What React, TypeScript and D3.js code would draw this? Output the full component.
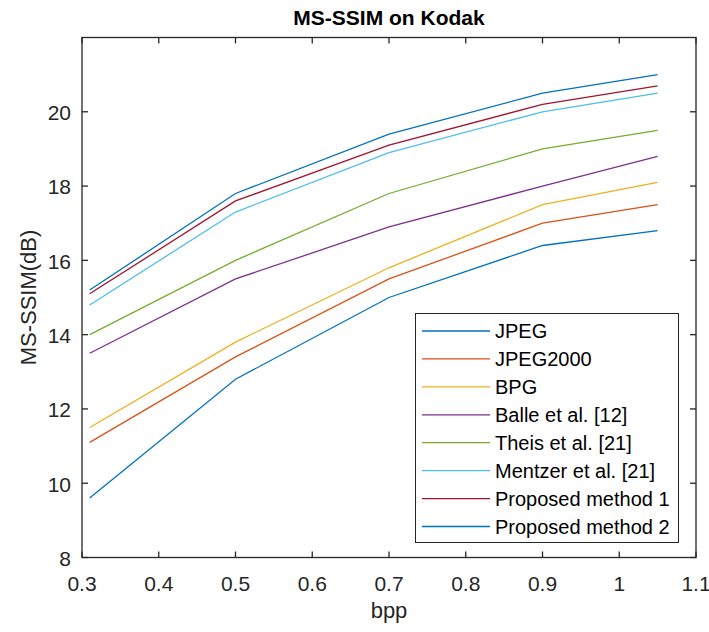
import React, { useEffect, useRef } from 'react';
import * as d3 from 'd3';

const bpp = [0.31, 0.5, 0.7, 0.9, 1.05];

const jpeg = [9.6, 12.8, 15.0, 16.4, 16.8];
const jpeg2000 = [11.1, 13.4, 15.5, 17.0, 17.5];
const bpg = [11.5, 13.8, 15.8, 17.5, 18.1];
const balle = [13.5, 15.5, 16.9, 18.0, 18.8];
const theis = [14.0, 16.0, 17.8, 19.0, 19.5];
const mentzer = [14.8, 17.3, 18.9, 20.0, 20.5];
const proposed1 = [15.1, 17.6, 19.1, 20.2, 20.7];
const proposed2 = [15.2, 17.8, 19.4, 20.5, 21.0];

const seriesNames = [
  'JPEG',
  'JPEG2000',
  'BPG',
  'Balle et al. [12]',
  'Theis et al. [21]',
  'Mentzer et al. [21]',
  'Proposed method 1',
  'Proposed method 2',
];
const seriesValues = [jpeg, jpeg2000, bpg, balle, theis, mentzer, proposed1, proposed2];
const seriesColors = ['#0072BD', '#D95319', '#EDB120', '#7E2F8E', '#77AC30', '#4DBEEE', '#A2142F', '#0072BD'];

const xTicks = [0.3, 0.4, 0.5, 0.6, 0.7, 0.8, 0.9, 1, 1.1];
const yTicks = [8, 10, 12, 14, 16, 18, 20];

const App = () => {
  const ref = useRef<SVGSVGElement>(null);

  useEffect(() => {
    const width = 709;
    const height = 632;
    const left = 82;
    const right = 696;
    const top = 37.5;
    const bottom = 557.5;
    const font = '"Liberation Sans", Arial, Helvetica, sans-serif';
    const axisColor = '#262626';

    const svg = d3.select(ref.current);
    svg.selectAll('*').remove();
    svg.attr('width', width).attr('height', height);

    svg.append('rect').attr('width', width).attr('height', height).attr('fill', 'white');

    const x = d3.scaleLinear().domain([0.3, 1.1]).range([left, right]);
    const y = d3.scaleLinear().domain([8, 22]).range([bottom, top]);

    // data lines
    const line = d3
      .line<number>()
      .x((d, i) => x(bpp[i]))
      .y((d) => y(d));

    seriesValues.forEach((vals, i) => {
      svg
        .append('path')
        .attr('d', line(vals))
        .attr('fill', 'none')
        .attr('stroke', seriesColors[i])
        .attr('stroke-width', 1.3);
    });

    // box + ticks
    const tickLen = 6;
    const ax = svg.append('g').attr('stroke', axisColor).attr('stroke-width', 1.3);
    ax.append('rect')
      .attr('x', left)
      .attr('y', top)
      .attr('width', right - left)
      .attr('height', bottom - top)
      .attr('fill', 'none');

    xTicks.forEach((t) => {
      ax.append('line').attr('x1', x(t)).attr('x2', x(t)).attr('y1', bottom).attr('y2', bottom - tickLen);
      ax.append('line').attr('x1', x(t)).attr('x2', x(t)).attr('y1', top).attr('y2', top + tickLen);
    });
    yTicks.forEach((t) => {
      ax.append('line').attr('x1', left).attr('x2', left + tickLen).attr('y1', y(t)).attr('y2', y(t));
      ax.append('line').attr('x1', right).attr('x2', right - tickLen).attr('y1', y(t)).attr('y2', y(t));
    });

    // tick labels
    svg.append('g')
      .selectAll('text')
      .data(xTicks)
      .enter()
      .append('text')
      .attr('x', (d) => x(d))
      .attr('y', bottom + 33)
      .attr('text-anchor', 'middle')
      .style('font-family', font)
      .style('font-size', '21px')
      .attr('fill', axisColor)
      .text((d) => String(d));

    svg.append('g')
      .selectAll('text')
      .data(yTicks)
      .enter()
      .append('text')
      .attr('x', left - 11)
      .attr('y', (d) => y(d) + 1)
      .attr('dy', '0.35em')
      .attr('text-anchor', 'end')
      .style('font-family', font)
      .style('font-size', '21px')
      .attr('fill', axisColor)
      .text((d) => String(d));

    // title and axis labels
    svg.append('text')
      .attr('x', (left + right) / 2)
      .attr('y', 25)
      .attr('text-anchor', 'middle')
      .style('font-family', font)
      .style('font-size', '21px')
      .style('font-weight', 'bold')
      .attr('fill', 'black')
      .text('MS-SSIM on Kodak');

    svg.append('text')
      .attr('x', (left + right) / 2)
      .attr('y', 618)
      .attr('text-anchor', 'middle')
      .style('font-family', font)
      .style('font-size', '22px')
      .attr('fill', axisColor)
      .text('bpp');

    svg.append('text')
      .attr('transform', `translate(36,${(top + bottom) / 2}) rotate(-90)`)
      .attr('text-anchor', 'middle')
      .style('font-family', font)
      .style('font-size', '22px')
      .attr('fill', axisColor)
      .text('MS-SSIM(dB)');

    // legend
    const lg = svg.append('g');
    lg.append('rect')
      .attr('x', 415.5)
      .attr('y', 313.5)
      .attr('width', 263)
      .attr('height', 229)
      .attr('fill', 'white')
      .attr('stroke', axisColor)
      .attr('stroke-width', 1);

    const rowY = d3.scaleLinear().domain([0, 7]).range([331, 526.5]);
    seriesNames.forEach((name, i) => {
      lg.append('line')
        .attr('x1', 422)
        .attr('x2', 490)
        .attr('y1', rowY(i))
        .attr('y2', rowY(i))
        .attr('stroke', seriesColors[i])
        .attr('stroke-width', 1.3);
      lg.append('text')
        .attr('x', 495)
        .attr('y', rowY(i))
        .attr('dy', '0.36em')
        .style('font-family', font)
        .style('font-size', '20px')
        .attr('fill', 'black')
        .text(name);
    });
  }, []);

  return (
    <svg ref={ref} style={{ position: 'absolute', left: 0, top: 0, display: 'block' }}></svg>
  );
};

export default App;
